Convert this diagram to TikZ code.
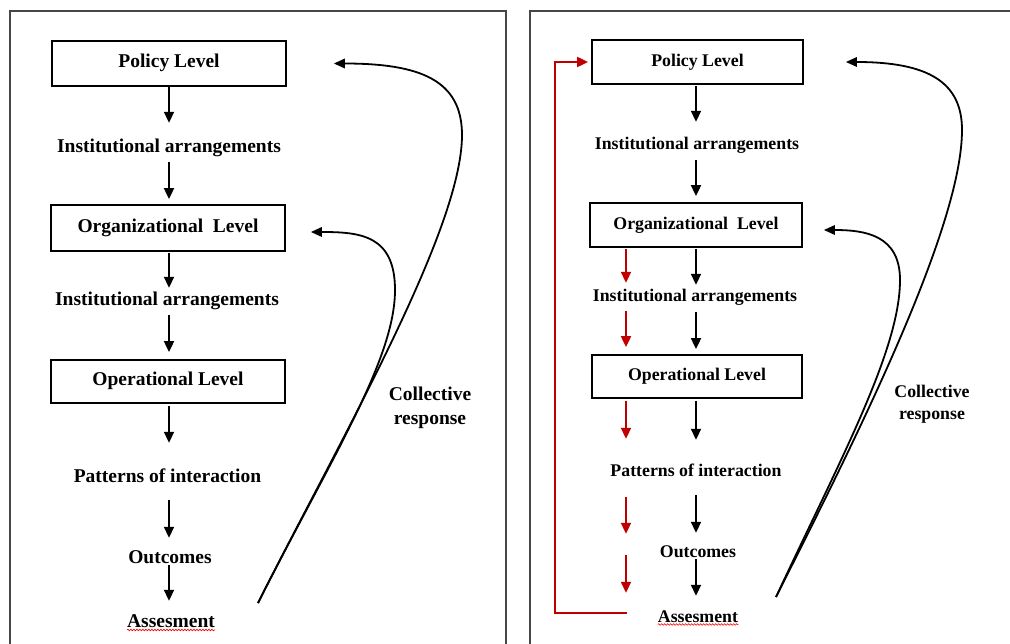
\documentclass[tikz,border=0pt]{standalone}
\usepackage{fontspec}
\setmainfont{Liberation Serif}
\usetikzlibrary{arrows.meta,decorations.pathmorphing}
\definecolor{dred}{RGB}{192,0,0}
\definecolor{frameg}{RGB}{70,70,70}
\begin{document}
\begin{tikzpicture}[x=1pt,y=-1pt,
  fL/.style={font=\fontsize{19.5}{24}\selectfont\bfseries},
  fR/.style={font=\fontsize{17.8}{22}\selectfont\bfseries},
  lvlL/.style={draw, line width=1.8pt, fL, inner sep=0pt, text height=14pt, text depth=5pt},
  lvlR/.style={draw, line width=1.8pt, fR, inner sep=0pt, text height=13pt, text depth=4.5pt},
  txtL/.style={fL, inner sep=0pt, text height=14pt, text depth=5pt, anchor=base},
  txtR/.style={fR, inner sep=0pt, text height=13pt, text depth=4.5pt, anchor=base},
  arr/.style={-{Triangle[length=11pt,width=10pt]}, line width=1.9pt},
  rarr/.style={-{Triangle[length=11pt,width=10pt]}, line width=2pt, draw=dred, color=dred},
  crv/.style={-{Triangle[length=11pt,width=9.5pt]}, line width=1.8pt},
  frame/.style={draw=frameg, line width=1.3pt},
  squig/.style={draw=red, line width=0.6pt, decorate, decoration={snake, amplitude=0.8pt, segment length=3pt}},
  coll/.style={align=center, anchor=north, inner sep=0pt}
]
\useasboundingbox (0,0) rectangle (1010,644);
\fill[white] (0,0) rectangle (1010,644);

% panel frames
\draw[frame] (10,644) -- (10,11) -- (506,11) -- (506,644);
\draw[frame] (530,644) -- (530,11) -- (1010,11);

% ---------------- left panel ----------------
\coordinate (lx) at (169,0);
\node[lvlL, minimum width=234pt, minimum height=45pt] (pol) at (169,63.5) {Policy Level};
\node[txtL] (ia1) at (169,153) {Institutional arrangements};
\node[lvlL, minimum width=234pt, minimum height=46pt] (org) at (168,228) {Organizational\hspace{0.25em} Level};
\node[txtL] (ia2) at (167,306) {Institutional arrangements};
\node[lvlL, minimum width=234pt, minimum height=43pt] (op) at (168,381.5) {Operational Level};
\node[txtL] (pat) at (167.5,482) {Patterns of interaction};
\node[txtL] (out) at (170,563) {Outcomes};
\node[txtL] (ass) at (171,627) {Assesment};
\draw[squig] ([yshift=-3pt]ass.base west) -- ([yshift=-3pt]ass.base east);

\draw[arr] (pol.south -| lx) -- ([yshift=16pt]ia1.north -| lx);
\draw[arr, shorten <=4pt, shorten >=5pt] (ia1.south -| lx) -- (org.north -| lx);
\draw[arr, shorten <=1pt, shorten >=4pt] (org.south -| lx) -- (ia2.north -| lx);
\draw[arr, shorten <=4pt, shorten >=7pt] (ia2.south -| lx) -- (op.north -| lx);
\draw[arr, shorten <=2pt, shorten >=25pt] (op.south -| lx) -- (pat.north -| lx);
\draw[arr, shorten <=13pt, shorten >=11pt] (pat.south -| lx) -- (out.north -| lx);
\draw[arr, shorten <=-3pt, shorten >=12pt] (out.south -| lx) -- (ass.north -| lx);

\coordinate (cL) at (258,603);
\draw[crv] (cL) .. controls (340,440) and (462,230) .. (462,135)
  .. controls (462,80) and (420,63.5) .. ([xshift=47pt]pol.east);
\draw[crv] (cL) .. controls (330,460) and (395,360) .. (395,290)
  .. controls (395,235) and (360,232) .. ([xshift=25pt,yshift=-4pt]org.east);
\node[fL, coll] (colL) at (430,386.5) {Collective\\response};

% ---------------- right panel ----------------
\coordinate (bx) at (696,0);
\coordinate (rx) at (626,0);
\node[lvlR, minimum width=211pt, minimum height=44pt] (pol2) at (697.5,62) {Policy Level};
\node[txtR] (ia1r) at (697,150) {Institutional arrangements};
\node[lvlR, minimum width=212pt, minimum height=44pt] (org2) at (696,225) {Organizational\hspace{0.25em} Level};
\node[txtR] (ia2r) at (695,302) {Institutional arrangements};
\node[lvlR, minimum width=210pt, minimum height=43pt] (op2) at (697,376.5) {Operational Level};
\node[txtR] (patr) at (696,476) {Patterns of interaction};
\node[txtR] (outr) at (698,557) {Outcomes};
\node[txtR] (assr) at (698,622) {Assesment};
\draw[squig] ([yshift=-2.5pt]assr.base west) -- ([yshift=-2.5pt]assr.base east);

\draw[arr, shorten <=1pt, shorten >=15pt] (pol2.south -| bx) -- (ia1r.north -| bx);
\draw[arr, shorten <=5.5pt, shorten >=6pt] (ia1r.south -| bx) -- (org2.north -| bx);
\draw[arr, shorten <=1pt, shorten >=4pt] (org2.south -| bx) -- (ia2r.north -| bx);
\draw[arr, shorten <=5.5pt, shorten >=5pt] (ia2r.south -| bx) -- (op2.north -| bx);
\draw[arr, shorten <=2pt, shorten >=23pt] (op2.south -| bx) -- (patr.north -| bx);
\draw[arr, shorten <=14.5pt, shorten >=11pt] (patr.south -| bx) -- (outr.north -| bx);
\draw[arr, shorten <=-2.5pt, shorten >=13pt] (outr.south -| bx) -- (assr.north -| bx);

\draw[rarr, shorten <=1pt, shorten >=6pt] (org2.south -| rx) -- (ia2r.north -| rx);
\draw[rarr, shorten <=4.5pt, shorten >=7pt] (ia2r.south -| rx) -- (op2.north -| rx);
\draw[rarr, shorten <=2pt, shorten >=24pt] (op2.south -| rx) -- (patr.north -| rx);
\draw[rarr, shorten <=16.5pt, shorten >=10pt] (patr.south -| rx) -- (outr.north -| rx);
\draw[rarr, shorten <=-6.5pt, shorten >=16pt] (outr.south -| rx) -- (assr.north -| rx);

\coordinate (rc) at (555,613);
\draw[rarr, shorten >=3pt] ([xshift=-31pt,yshift=4.75pt]assr.west) -- (rc) |- (pol2.west);

\coordinate (cR) at (776,597);
\draw[crv] (cR) .. controls (850,450) and (962,230) .. (962,130)
  .. controls (962,82) and (928,62) .. ([xshift=42pt]pol2.east);
\draw[crv] (cR) .. controls (840,460) and (900,350) .. (900,280)
  .. controls (900,235) and (865,230) .. ([xshift=21pt,yshift=-5pt]org2.east);
\node[fR, coll] (colR) at (932,385) {Collective\\response};
\end{tikzpicture}
\end{document}
